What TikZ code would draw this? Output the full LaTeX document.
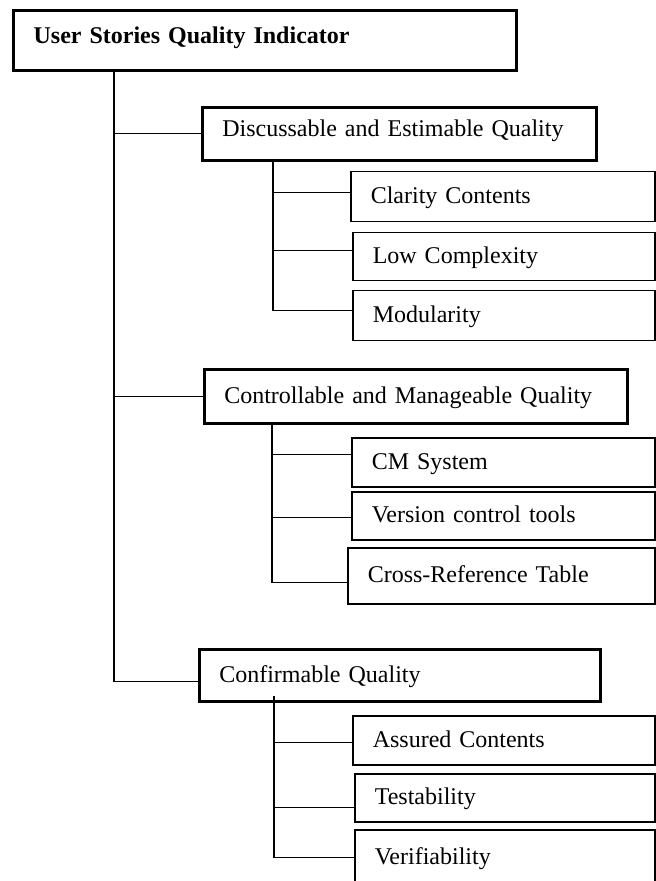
\documentclass[tikz,border=0pt]{standalone}
\usepackage{fontspec}
\setmainfont{Liberation Serif}
\usepackage{tikz}
\usetikzlibrary{positioning}

\tikzset{
  box/.style = {rectangle, draw=black, anchor=north west, align=left,
    inner xsep=10pt, text height=9pt, text depth=6pt,
    font=\fontsize{12}{14}\selectfont},
  topbox/.style = {box, line width=1.6pt, font=\fontsize{12}{14}\selectfont\bfseries},
  groupbox/.style = {box, line width=1.3pt, text depth=2pt},
  leafbox/.style = {box, line width=0.75pt, text depth=2pt},
  link/.style = {draw=black, line width=0.7pt}
}

\begin{document}
\begin{tikzpicture}[x=0.5pt, y=-0.5pt]
\useasboundingbox (0,0) rectangle (655,881);

% root
\node [topbox, minimum width=251.5pt, minimum height=30pt, text width=231.5pt] (root) at (12, 9) {User Stories Quality Indicator};

% first group
\node [groupbox, text depth=6pt, minimum width=197pt, minimum height=26.5pt, text width=177pt] (dq) at (201, 106) {Discussable and Estimable Quality};
\node [leafbox, minimum width=152pt, minimum height=25pt, text width=132pt] (cc) at (350, 171) {Clarity Contents};
\node [leafbox, minimum width=151pt, minimum height=24pt, text width=131pt] (lc) at (352, 232) {Low Complexity};
\node [leafbox, minimum width=151pt, minimum height=25pt, text width=131pt] (mo) at (352, 290) {Modularity};

% second group
\node [groupbox, minimum width=211.5pt, minimum height=27pt, text width=191.5pt] (cmq) at (203, 368) {Controllable and Manageable Quality};
\node [leafbox, minimum width=151.5pt, minimum height=24.5pt, text width=131.5pt] (cms) at (351, 437) {CM System};
\node [leafbox, minimum width=151.5pt, minimum height=24pt, text width=131.5pt] (vct) at (351, 491) {Version control tools};
\node [leafbox, minimum width=153.5pt, minimum height=28pt, text width=133.5pt] (crt) at (347, 547) {Cross-Reference Table};

% third group
\node [groupbox, minimum width=200.5pt, minimum height=26pt, text width=180.5pt] (cq) at (198, 648) {Confirmable Quality};
\node [leafbox, minimum width=151pt, minimum height=24.5pt, text width=131pt] (ac) at (352, 715) {Assured Contents};
\node [leafbox, minimum width=150pt, minimum height=24pt, text width=130pt] (te) at (354, 773) {Testability};
\node [leafbox, minimum width=150pt, minimum height=28pt, text width=130pt] (ve) at (354, 829) {Verifiability};

% trunks
\coordinate (trunk) at (114, 69);
\coordinate (dqtrunk) at (273, 159);
\coordinate (cmqtrunk) at (272, 422);
\coordinate (cqtrunk) at (274, 696);

\draw [link] (trunk) |- (dq.west);
\draw [link] (trunk) |- (cmq.west);
\draw [link] (trunk) |- ([yshift=-3pt]cq.west);

\draw [link] (dqtrunk) |- ([yshift=2pt]cc.west);
\draw [link] (dqtrunk) |- ([yshift=3pt]lc.west);
\draw [link] (dqtrunk) |- ([yshift=2.5pt]mo.west);

\draw [link] (cmqtrunk) |- ([yshift=4pt]cms.west);
\draw [link] (cmqtrunk) |- ([yshift=-1pt]vct.west);
\draw [link] (cmqtrunk) |- ([yshift=-3.5pt]crt.west);

\draw [link] (cqtrunk) |- ([yshift=-1pt]ac.west);
\draw [link] (cqtrunk) |- ([yshift=-5pt]te.west);
\draw [link] (cqtrunk) |- (ve.west);
\end{tikzpicture}
\end{document}
